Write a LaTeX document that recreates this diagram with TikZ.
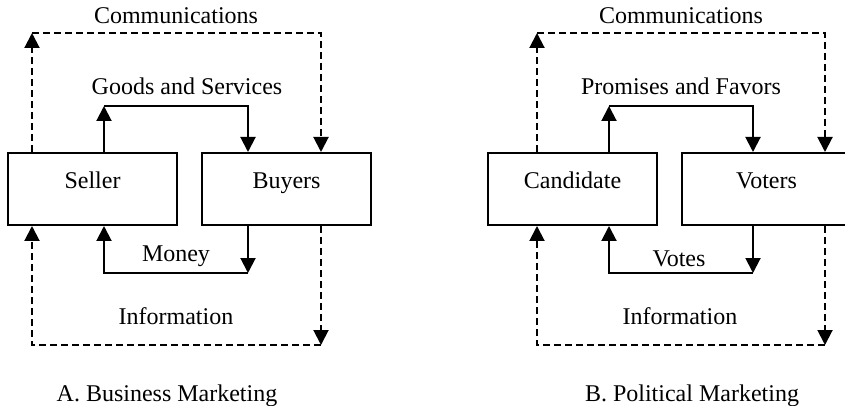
\documentclass[tikz,border=0pt]{standalone}
\usepackage{fontspec}
\setmainfont{Liberation Serif}
\usetikzlibrary{arrows.meta,positioning}

\tikzset{
  party/.style={draw,line width=1pt,minimum width=84.5pt,minimum height=36pt,inner sep=0pt,text height=5pt,text depth=5pt},
  flow/.style={line width=1pt,-{Triangle[width=7.5pt,length=7.5pt]}},
  talk/.style={flow,dash pattern=on 3.5pt off 2pt},
  tag/.style={anchor=base,inner sep=0pt}
}

\begin{document}
\begin{tikzpicture}[x=0.5pt,y=-0.5pt,font=\fontsize{12}{14}\selectfont]
\useasboundingbox (0,0) rectangle (845,406);
\clip (0,0) rectangle (845,406);

% A. business marketing
\node[party] (seller) at (92.5,189) {Seller};
\node[party,right=11.5pt of seller] (buyers) {Buyers};

\coordinate (cL) at (32,33);   \coordinate (cR) at (321,33);
\coordinate (gL) at (104,106); \coordinate (gR) at (248,106);
\coordinate (mL) at (104,273); \coordinate (mR) at (248,273);
\coordinate (iL) at (32,345);  \coordinate (iR) at (321,345);

\draw[talk] (seller.north -| cL) -- (cL);
\draw[talk] (cL) -- (cR) -- (buyers.north -| cR);
\draw[flow] (seller.north -| gL) -- (gL);
\draw[flow] (gL) -- (gR) -- (buyers.north -| gR);
\draw[flow] (buyers.south -| mR) -- (mR);
\draw[flow] (mR) -- (mL) -- (seller.south -| mL);
\draw[talk] (buyers.south -| iR) -- (iR);
\draw[talk] (iR) -- (iL) -- (seller.south -| iL);

\node[tag] (comA) at (176,24) {Communications};
\node[tag] (goods) at (187,95) {Goods and Services};
\node[tag] (money) at (176,261) {Money};
\node[tag] (infA) at (176,324) {Information};
\node[tag] (titA) at (167,401) {A. Business Marketing};

% B. political marketing
\node[party] (cand) at (572.5,189) {Candidate};
\node[party,right=11.5pt of cand] (voters) {Voters};

\coordinate (cL') at (537,33);  \coordinate (cR') at (825,33);
\coordinate (gL') at (609,106); \coordinate (gR') at (753,106);
\coordinate (mL') at (609,273); \coordinate (mR') at (753,273);
\coordinate (iL') at (537,345); \coordinate (iR') at (825,345);

\draw[talk] (cand.north -| cL') -- (cL');
\draw[talk] (cL') -- (cR') -- (voters.north -| cR');
\draw[flow] (cand.north -| gL') -- (gL');
\draw[flow] (gL') -- (gR') -- (voters.north -| gR');
\draw[flow] (voters.south -| mR') -- (mR');
\draw[flow] (mR') -- (mL') -- (cand.south -| mL');
\draw[talk] (voters.south -| iR') -- (iR');
\draw[talk] (iR') -- (iL') -- (cand.south -| iL');

\node[tag] (comB) at (681,24) {Communications};
\node[tag] (promises) at (681,95) {Promises and Favors};
\node[tag] (votes) at (679,266) {Votes};
\node[tag] (infB) at (680,324) {Information};
\node[tag] (titB) at (692,401) {B. Political Marketing};
\end{tikzpicture}
\end{document}
